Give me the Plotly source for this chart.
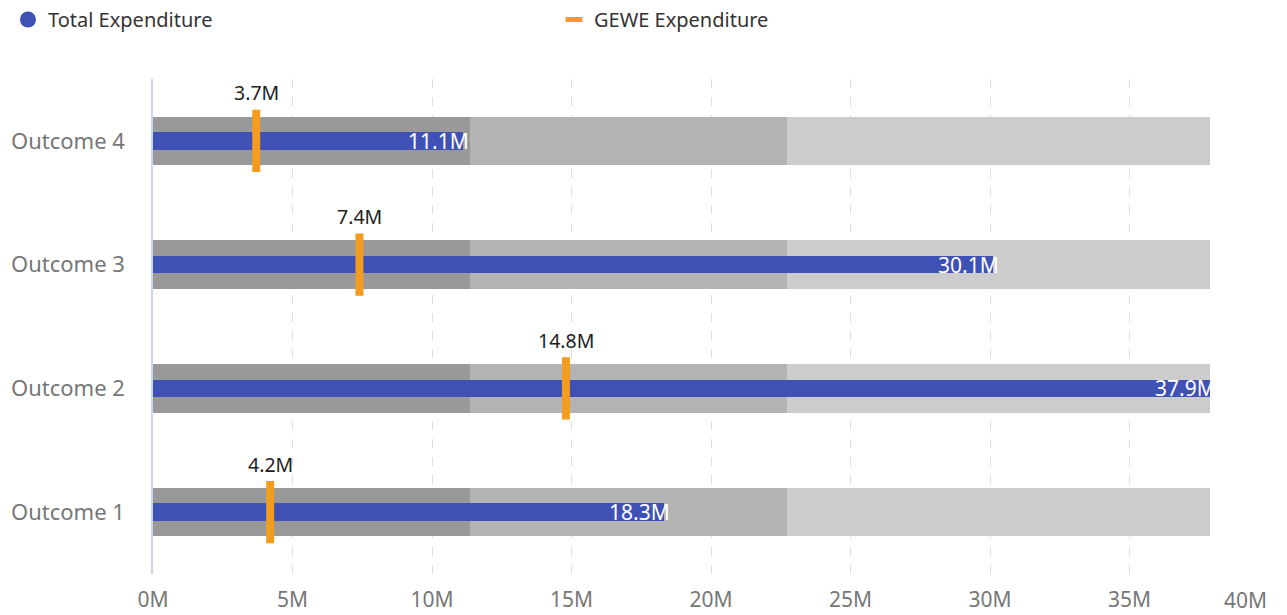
import plotly.graph_objects as go

categories = ["Outcome 1", "Outcome 2", "Outcome 3", "Outcome 4"]
total_exp = [18.3, 37.9, 30.1, 11.1]      # millions
gewe_exp = [4.2, 14.8, 7.4, 3.7]          # millions
band_low = [11.37, 11.37, 11.37, 11.37]
band_mid = [22.74, 22.74, 22.74, 22.74]
band_high = [37.9, 37.9, 37.9, 37.9]
tick_vals = [0, 5, 10, 15, 20, 25, 30, 35, 40]
tick_text = ["0M", "5M", "10M", "15M", "20M", "25M", "30M", "35M", "40M"]

BLUE = "#3f51b5"
ORANGE = "#f39c1f"
FONT = "Noto Sans"

fig = go.Figure()

for vals, col in [(band_high, "#cccccc"), (band_mid, "#b3b3b3"), (band_low, "#999999")]:
    fig.add_trace(go.Bar(y=categories, x=vals, orientation="h", width=0.39,
                         marker=dict(color=col, line=dict(width=0)),
                         showlegend=False, hoverinfo="skip"))

fig.add_trace(go.Bar(y=categories, x=total_exp, orientation="h", width=0.142,
                     marker=dict(color=BLUE, line=dict(width=0)),
                     showlegend=False, name="Total Expenditure"))

fig.add_trace(go.Scatter(y=categories, x=gewe_exp, mode="markers",
                         marker=dict(symbol="line-ns", size=44.5,
                                     line=dict(color=ORANGE, width=8)),
                         showlegend=False, name="GEWE Expenditure"))

# legend dummies
fig.add_trace(go.Scatter(x=[None], y=[None], mode="markers", name="Total Expenditure",
                         marker=dict(symbol="circle", size=16, color=BLUE)))
fig.add_trace(go.Scatter(x=[None], y=[None], mode="markers", name="GEWE Expenditure",
                         marker=dict(symbol="line-ew", size=12,
                                     line=dict(color=ORANGE, width=6))))

for c, v in zip(categories, total_exp):
    fig.add_annotation(x=v, y=c, text=f"{v:.1f}M", showarrow=False, xanchor="right",
                       xshift=8, font=dict(family=FONT, size=21, color="white"))
for c, v in zip(categories, gewe_exp):
    fig.add_annotation(x=v, y=c, text=f"{v:.1f}M", showarrow=False, yanchor="middle",
                       yshift=48, font=dict(family=FONT, size=19.5, color="#222222"))

# last tick label is right-aligned to the axis end so it stays inside the canvas
shown_ticks = tick_text[:-1] + [""]
fig.add_annotation(x=tick_vals[-1], y=0, xref="x", yref="paper", text=tick_text[-1],
                   showarrow=False, xanchor="right", yanchor="top", yshift=-10,
                   font=dict(family=FONT, size=21, color="#777777"))

fig.update_layout(
    width=1287, height=615,
    margin=dict(l=153, r=18, t=79, b=41, autoexpand=False),
    paper_bgcolor="white", plot_bgcolor="white",
    barmode="overlay", bargap=0,
    font=dict(family=FONT, color="#777777"),
    legend=dict(orientation="h", xref="container", yref="container",
                x=0.0062, y=1.0, xanchor="left", yanchor="top",
                entrywidthmode="pixels", entrywidth=501,
                font=dict(family=FONT, size=20, color="#333333")),
    xaxis=dict(range=[0, 40], tickvals=tick_vals, ticktext=shown_ticks,
               showgrid=True, gridcolor="#dedede", griddash="dash", gridwidth=1,
               zeroline=False, showline=False, automargin=False,
               ticks="outside", ticklen=7, tickcolor="rgba(0,0,0,0)",
               tickfont=dict(family=FONT, size=21, color="#777777")),
    yaxis=dict(categoryorder="array", categoryarray=categories,
               range=[-0.5, 3.5], showgrid=False, zeroline=False,
               showline=True, linecolor="#c6d6ee", linewidth=1.5, automargin=False,
               ticks="outside", ticklen=22, tickcolor="rgba(0,0,0,0)",
               tickfont=dict(family=FONT, size=22, color="#777777")),
)

fig.write_html("out.html", config={"displayModeBar": False},
               post_script="document.body.style.margin='0';")
